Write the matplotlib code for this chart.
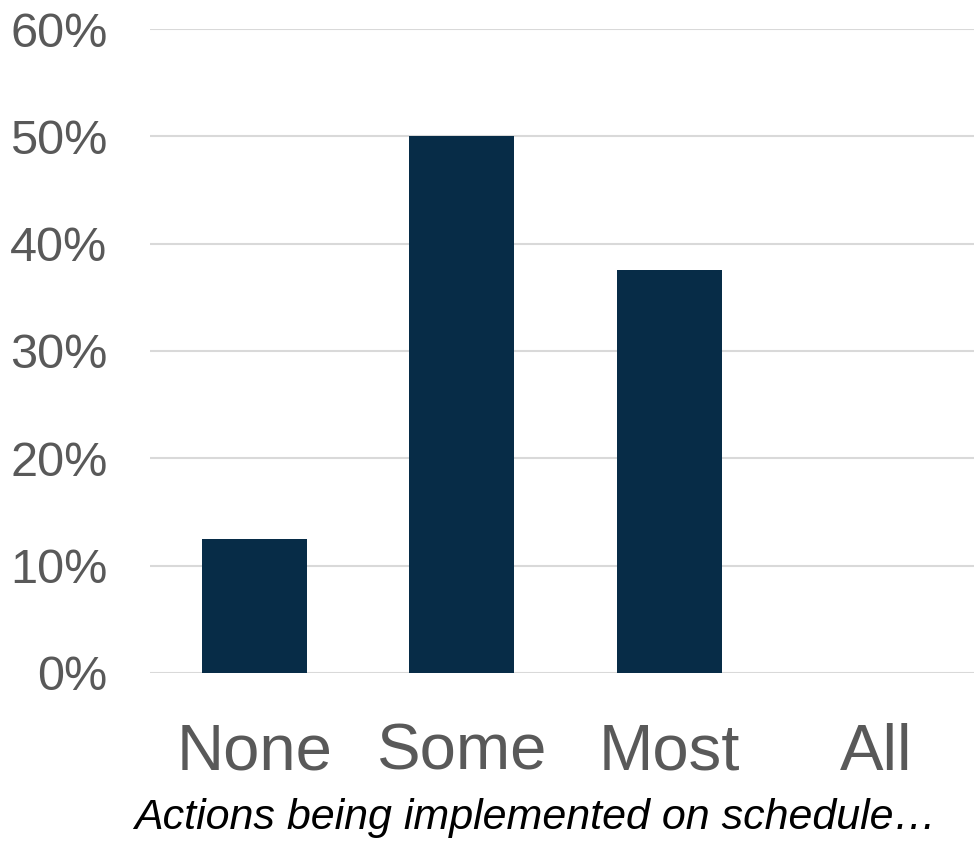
import numpy as np
from matplotlib import pyplot as plt
from matplotlib.ticker import PercentFormatter

categories = ['None', 'Some', 'Most', 'All']
shares = [0.125, 0.50, 0.375, 0.0]
y_ticks = [0, 0.1, 0.2, 0.3, 0.4, 0.5, 0.6]

plt.rcParams['font.family'] = ['Liberation Sans', 'DejaVu Sans']

fig = plt.figure(figsize=(9.74, 8.41), dpi=100)
ax = fig.add_axes([0.1545, 0.2, 0.852, 0.7655])

x = np.arange(len(categories))
ax.bar(x, shares, width=0.506, color='#072C47', zorder=3)

ax.set_xlim(-0.5, len(categories) - 0.5)
ax.set_ylim(0, 0.6)
ax.set_yticks(y_ticks)
ax.yaxis.set_major_formatter(PercentFormatter(1.0, decimals=0))
ax.grid(axis='y', color='#D9D9D9', linewidth=1.5, zorder=0)
for s in ax.spines.values():
    s.set_visible(False)

ax.set_xticks(x)
ax.set_xticklabels(categories, fontsize=47, color='#595959')
ax.tick_params(axis='x', length=0, pad=36)
ax.tick_params(axis='y', length=0, labelsize=35, labelcolor='#595959', pad=31)

fig.text(535 / 974, 1 - 818 / 841, 'Actions being implemented on schedule\u2026',
         fontsize=31, style='italic', color='black', ha='center', va='center')

plt.savefig('out.png', dpi=100)
